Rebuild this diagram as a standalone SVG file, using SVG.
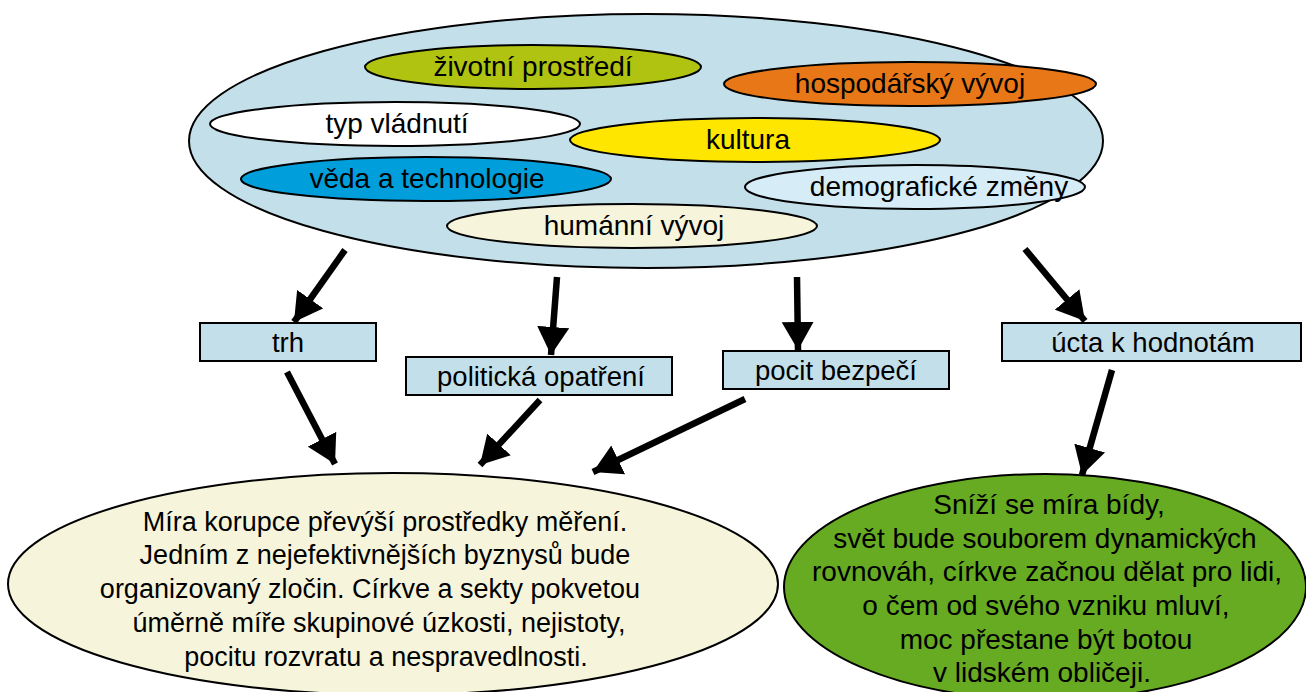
<svg xmlns="http://www.w3.org/2000/svg" width="1306" height="692" viewBox="0 0 1306 692">
<style>
text{font-family:"Liberation Sans",Arial,sans-serif;fill:#000;text-anchor:middle}
.n{font-size:28px}
.b{font-size:27.5px}
.e{stroke:#000;stroke-width:2}
.box{fill:#c3dfea;stroke:#000;stroke-width:2}
.big{font-size:27px}
.bigr{font-size:28px}
.arr{stroke:#000;stroke-width:6.5;fill:none;marker-end:url(#ah)}
</style>
<defs>
<marker id="ah" markerUnits="userSpaceOnUse" markerWidth="32" markerHeight="32" refX="28" refY="16" orient="auto" viewBox="0 0 32 32">
<path d="M0,0 L28,16 L0,32 Z" fill="#000"/>
</marker>
</defs>
<g id="context">
<ellipse class="e" cx="646" cy="141" rx="457" ry="127" fill="#c3dfea"/>
</g>
<g id="zivotni-prostredi"><ellipse class="e" cx="533" cy="67" rx="168" ry="22" fill="#afc310"/><text class="n" x="533" y="76">životní prostředí</text></g>
<g id="hospodarsky-vyvoj"><ellipse class="e" cx="910" cy="84" rx="186" ry="22" fill="#e87817"/><text class="n" x="910" y="93">hospodářský vývoj</text></g>
<g id="typ-vladnuti"><ellipse class="e" cx="395" cy="124" rx="185" ry="22" fill="#ffffff"/><text class="n" x="397" y="133">typ vládnutí</text></g>
<g id="kultura"><ellipse class="e" cx="755" cy="140" rx="185" ry="22" fill="#ffe600"/><text class="n" x="748" y="149">kultura</text></g>
<g id="veda-a-technologie"><ellipse class="e" cx="426" cy="179" rx="185" ry="22" fill="#009edb"/><text class="n" x="427" y="188">věda a technologie</text></g>
<g id="demograficke-zmeny"><ellipse class="e" cx="915" cy="187" rx="170" ry="22" fill="#d6ecf7"/><text class="n" x="939" y="196">demografické změny</text></g>
<g id="humanni-vyvoj"><ellipse class="e" cx="632" cy="226" rx="185" ry="22" fill="#f6f5dc"/><text class="n" x="634" y="235">humánní vývoj</text></g>

<g id="trh"><rect class="box" x="200" y="323" width="176" height="38"/><text class="b" x="288" y="352">trh</text></g>
<g id="politicka-opatreni"><rect class="box" x="406" y="357" width="266" height="38"/><text class="b" x="541" y="386">politická opatření</text></g>
<g id="pocit-bezpeci"><rect class="box" x="723" y="351" width="226" height="38"/><text class="b" x="836" y="380">pocit bezpečí</text></g>
<g id="ucta-k-hodnotam"><rect class="box" x="1002" y="323" width="299" height="38"/><text class="b" x="1153" y="352">úcta k hodnotám</text></g>

<g id="negative-outcome"><ellipse class="e" cx="393" cy="584" rx="385" ry="111" fill="#f6f5dc"/>
<text class="big" x="385" y="531">Míra korupce převýší prostředky měření.</text>
<text class="big" x="385" y="564">Jedním z nejefektivnějších byznysů bude</text>
<text class="big" x="370" y="598">organizovaný zločin. Církve a sekty pokvetou</text>
<text class="big" x="379" y="632">úměrně míře skupinové úzkosti, nejistoty,</text>
<text class="big" x="386" y="666">pocitu rozvratu a nespravedlnosti.</text>
</g>
<g id="positive-outcome"><ellipse class="e" cx="1045" cy="587" rx="261" ry="113" fill="#66ab22"/>
<text class="bigr" x="1049" y="514">Sníží se míra bídy,</text>
<text class="bigr" x="1045" y="548">svět bude souborem dynamických</text>
<text class="bigr" x="1047" y="581">rovnováh, církve začnou dělat pro lidi,</text>
<text class="bigr" x="1046" y="615">o čem od svého vzniku mluví,</text>
<text class="bigr" x="1046" y="649">moc přestane být botou</text>
<text class="bigr" x="1042" y="682">v lidském obličeji.</text>
</g>

<g id="connectors">
<line class="arr" x1="345" y1="250" x2="294" y2="322"/>
<line class="arr" x1="557" y1="277" x2="551" y2="355"/>
<line class="arr" x1="797" y1="277" x2="798" y2="350"/>
<line class="arr" x1="1025" y1="249" x2="1085" y2="321"/>
<line class="arr" x1="287" y1="372" x2="335" y2="464"/>
<line class="arr" x1="540" y1="400" x2="480" y2="465"/>
<line class="arr" x1="745" y1="399" x2="593" y2="472"/>
<line class="arr" x1="1112" y1="370" x2="1082" y2="475"/>
</g>
</svg>
